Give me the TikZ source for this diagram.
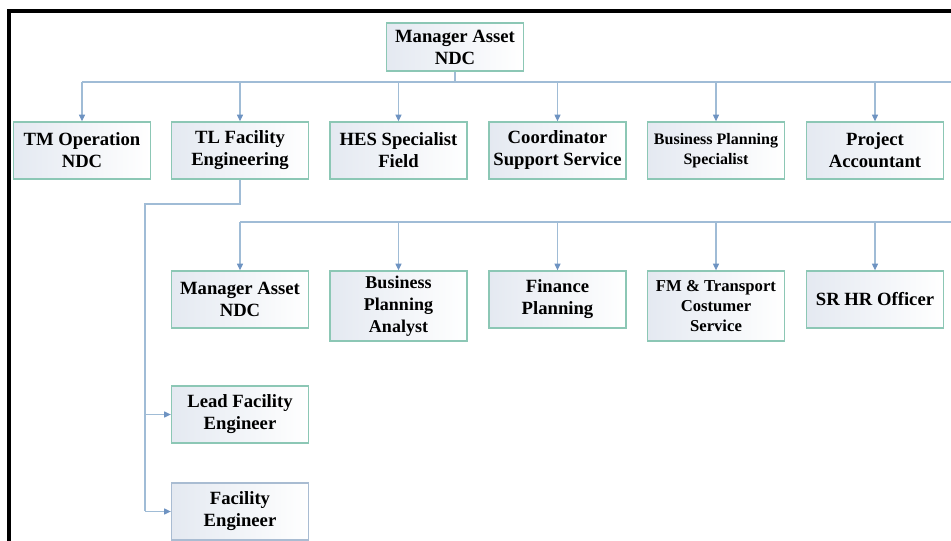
\documentclass[tikz,border=0pt]{standalone}
\usepackage{fontspec}
\setmainfont{Liberation Serif}
\newfontfamily\orgfont{Liberation Serif}[BoldFont={Liberation Serif Bold}]
\usetikzlibrary{arrows.meta,positioning}
\definecolor{box-edge}{HTML}{8CC7B5}
\definecolor{box-edge-blue}{HTML}{A9BCD2}
\definecolor{box-shade}{HTML}{E4E9F1}
\definecolor{link-line}{HTML}{A0BCD6}
\definecolor{link-tip}{HTML}{6E93C2}
\tikzset{
    org-box/.style = {draw=box-edge, line width=1pt, rectangle, left color=box-shade, right color=white, minimum width=102.75pt, minimum height=42.75pt, inner sep=2pt, align=center, font=\orgfont\fontsize{14}{16.5}\selectfont\bfseries},
    org-box-tall/.style = {org-box, minimum height=52.5pt},
    org-link/.style = {draw=link-line, line width=0.8pt},
    org-arrow/.style = {org-link, -{Triangle[length=5pt,width=4.5pt,color=link-tip,fill=link-tip]}},
    frame-line/.style = {draw=black, line width=3pt},
}

\begin{document}
\begin{tikzpicture}[x=0.75pt,y=-0.75pt]
\useasboundingbox (0,0) rectangle (951,541);
\draw[frame-line] (9,541) -- (9,11) -- (951,11);

% first level
\node[org-box, minimum height=36pt] (top-mgr) at (455,47) {Manager Asset\\NDC};
\node[org-box] (tm-op) at (82,150.5) {TM Operation\\NDC};
\node[org-box] (tl-fac) at (240,150.5) {TL Facility\\Engineering};
\node[org-box] (hes) at (398.5,150.5) {HES Specialist\\Field};
\node[org-box] (coord) at (557.5,150.5) {Coordinator\\Support Service};
\node[org-box, font=\orgfont\fontsize{12}{15}\selectfont\bfseries] (bp-spec) at (716,150.5) {Business Planning\\Specialist};
\node[org-box] (proj-acc) at (875,150.5) {Project\\Accountant};

% second level
\node[org-box] (mgr-ndc) at (240,299.5) {Manager Asset\\NDC};
\node[org-box-tall, font=\orgfont\fontsize{13.5}{16.5}\selectfont\bfseries] (bp-an) at (398.5,306) {Business\\Planning\\Analyst};
\node[org-box] (fin) at (557.5,299.5) {Finance\\Planning};
\node[org-box-tall, font=\orgfont\fontsize{12.5}{15}\selectfont\bfseries] (fm-tr) at (716,306) {FM \& Transport\\Costumer\\Service};
\node[org-box] (sr-hr) at (875,299.5) {SR HR Officer};

\node[org-box] (lead-fe) at (240,414.5) {Lead Facility\\Engineer};
\node[org-box, draw=box-edge-blue] (fac-eng) at (240,511.5) {Facility\\Engineer};

% connectors
\coordinate (bus-top) at (82,82);
\coordinate (bus-top-end) at (951,82);
\draw[org-link] (top-mgr.south) -- (top-mgr.south |- bus-top);
\draw[org-link] (bus-top) -- (bus-top-end);
\foreach \n in {tm-op,tl-fac,hes,coord,bp-spec,proj-acc}
    \draw[org-arrow] (\n.north |- bus-top) -- (\n.north);

\coordinate (bus-mid) at (240,222);
\coordinate (bus-mid-end) at (951,222);
\draw[org-link] (bus-mid) -- (bus-mid-end);
\foreach \n in {mgr-ndc,bp-an,fin,fm-tr,sr-hr}
    \draw[org-arrow] (\n.north |- bus-mid) -- (\n.north);

\coordinate (side-rail) at (145,204);
\draw[org-link] (tl-fac.south) |- (side-rail) -- (side-rail |- fac-eng.west);
\draw[org-arrow] (side-rail |- lead-fe.west) -- (lead-fe.west);
\draw[org-arrow] (side-rail |- fac-eng.west) -- (fac-eng.west);
\end{tikzpicture}
\end{document}
